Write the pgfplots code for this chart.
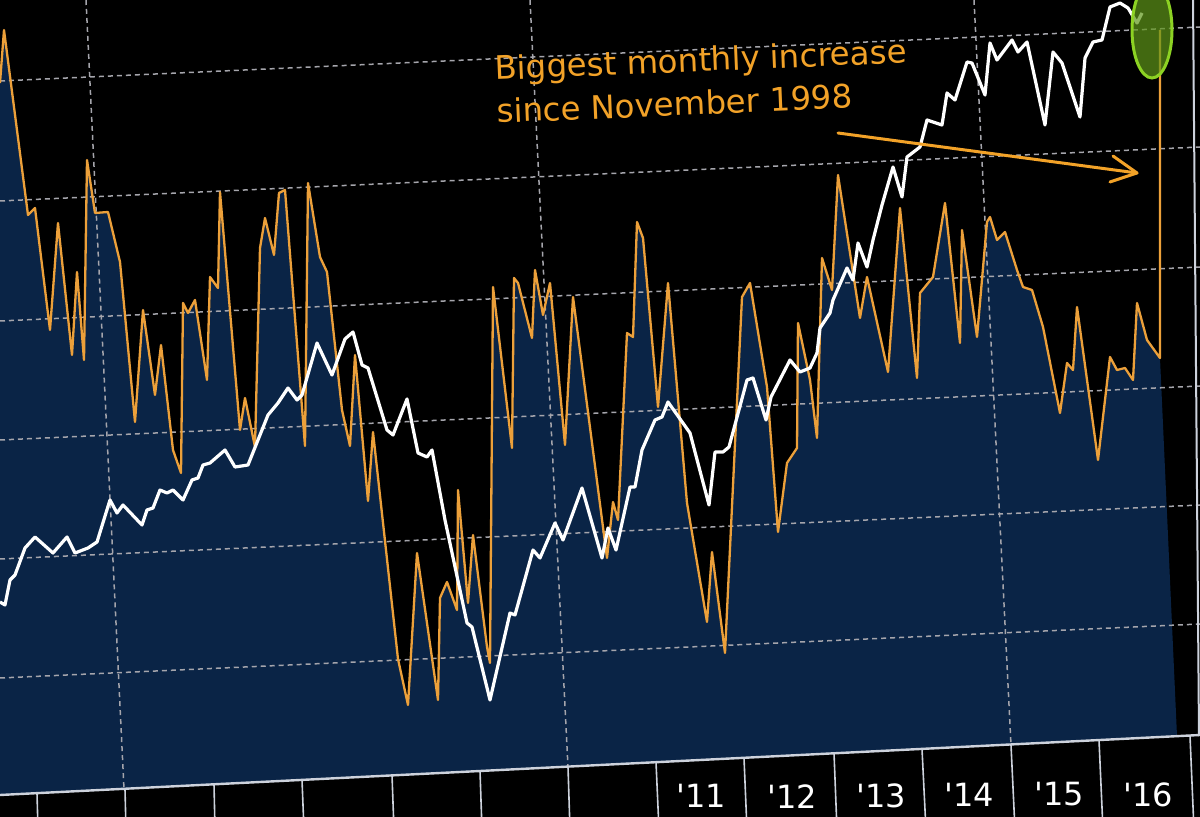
\documentclass[border=0pt]{standalone}
\usepackage{fontspec}
\setmainfont{DejaVu Sans}
\usepackage{pgfplots}
\pgfplotsset{compat=1.18}
\definecolor{navyF}{RGB}{10,36,70}
\definecolor{orangeL}{RGB}{236,160,58}
\definecolor{orangeT}{RGB}{242,162,40}
\definecolor{gridC}{RGB}{165,165,172}
\definecolor{axisC}{RGB}{205,210,220}
\definecolor{limeC}{RGB}{140,210,35}
\definecolor{greenF}{RGB}{95,150,25}
\begin{document}
\begin{tikzpicture}
\useasboundingbox (0,0) rectangle (600pt,408.5pt);
\clip (0,0) rectangle (600pt,408.5pt);
\fill[black] (0,0) rectangle (600pt,408.5pt);
\begin{axis}[at={(0,0)}, anchor=south west,
  width=600pt, height=408.5pt, scale only axis,
  xmin=0, xmax=1200, ymin=0, ymax=817, y dir=reverse,
  axis lines=none, xtick=\empty, ytick=\empty, clip=true]
% navy area under the orange series
\addplot[draw=none, fill=navyF] coordinates {
(0,83) (4,30) (28,215) (35,208) (50,330) (58,223) (72,355) (77,272) (84,360) (87,160)
(95,213) (108,212) (120,262) (135,422) (143,310) (155,395) (161,345) (173,450) (181,473) (183,303)
(188,313) (195,300) (207,380) (210,277) (218,288) (220,192) (240,430) (245,398) (255,447) (260,248)
(265,218) (274,255) (279,193) (285,190) (305,446) (308,183) (320,257) (327,272) (342,410) (350,446)
(355,355) (368,501) (373,432) (398,659) (408,705) (417,553) (438,700) (440,598) (447,582) (457,610)
(458,490) (468,603) (473,535) (487,647) (490,663) (493,287) (512,448) (514,278) (518,283) (532,338)
(535,270) (543,315) (550,283) (565,445) (573,297) (607,558) (613,502) (618,520) (627,333) (633,337)
(637,222) (643,238) (658,407) (668,283) (687,503) (707,622) (712,552) (725,653) (742,297) (750,283)
(767,387) (778,532) (787,463) (797,448) (798,323) (810,380) (817,438) (822,258) (832,290) (838,175)
(860,318) (867,277) (888,372) (900,208) (917,378) (920,293) (933,277) (945,203) (960,343) (962,230)
(977,337) (987,222) (990,217) (997,240) (1005,232) (1017,270) (1023,287) (1032,290) (1043,327) (1060,413)
(1067,363) (1073,370) (1077,307) (1098,460) (1110,357) (1117,370) (1125,368) (1133,380) (1137,303) (1147,340)
(1160,358) (1177,736) (0,795)};
% grid
\draw[gridC, line width=0.75pt, dash pattern=on 2.5pt off 2pt] (axis cs:0,81) -- (axis cs:1200,27);
\draw[gridC, line width=0.75pt, dash pattern=on 2.5pt off 2pt] (axis cs:0,201) -- (axis cs:1200,147);
\draw[gridC, line width=0.75pt, dash pattern=on 2.5pt off 2pt] (axis cs:0,321) -- (axis cs:1200,267);
\draw[gridC, line width=0.75pt, dash pattern=on 2.5pt off 2pt] (axis cs:0,440) -- (axis cs:1200,386);
\draw[gridC, line width=0.75pt, dash pattern=on 2.5pt off 2pt] (axis cs:0,559) -- (axis cs:1200,505);
\draw[gridC, line width=0.75pt, dash pattern=on 2.5pt off 2pt] (axis cs:0,678) -- (axis cs:1200,624);
\draw[gridC, line width=0.75pt, dash pattern=on 2.5pt off 2pt] (axis cs:86,0) -- (axis cs:124,789);
\draw[gridC, line width=0.75pt, dash pattern=on 2.5pt off 2pt] (axis cs:530,0) -- (axis cs:568,767);
\draw[gridC, line width=0.75pt, dash pattern=on 2.5pt off 2pt] (axis cs:974,0) -- (axis cs:1011,745);
% orange series
\addplot[orangeL, line width=1.15pt, line join=round] coordinates {
(0,83) (4,30) (28,215) (35,208) (50,330) (58,223) (72,355) (77,272) (84,360) (87,160)
(95,213) (108,212) (120,262) (135,422) (143,310) (155,395) (161,345) (173,450) (181,473) (183,303)
(188,313) (195,300) (207,380) (210,277) (218,288) (220,192) (240,430) (245,398) (255,447) (260,248)
(265,218) (274,255) (279,193) (285,190) (305,446) (308,183) (320,257) (327,272) (342,410) (350,446)
(355,355) (368,501) (373,432) (398,659) (408,705) (417,553) (438,700) (440,598) (447,582) (457,610)
(458,490) (468,603) (473,535) (487,647) (490,663) (493,287) (512,448) (514,278) (518,283) (532,338)
(535,270) (543,315) (550,283) (565,445) (573,297) (607,558) (613,502) (618,520) (627,333) (633,337)
(637,222) (643,238) (658,407) (668,283) (687,503) (707,622) (712,552) (725,653) (742,297) (750,283)
(767,387) (778,532) (787,463) (797,448) (798,323) (810,380) (817,438) (822,258) (832,290) (838,175)
(860,318) (867,277) (888,372) (900,208) (917,378) (920,293) (933,277) (945,203) (960,343) (962,230)
(977,337) (987,222) (990,217) (997,240) (1005,232) (1017,270) (1023,287) (1032,290) (1043,327) (1060,413)
(1067,363) (1073,370) (1077,307) (1098,460) (1110,357) (1117,370) (1125,368) (1133,380) (1137,303) (1147,340)
(1160,358) (1160,30)};
% white series
\addplot[white, line width=1.6pt, line join=round] coordinates {
(0,602) (5,605) (10,580) (15,575) (25,548) (35,537) (53,553) (67,537) (75,553) (88,548)
(97,542) (110,500) (117,513) (123,505) (142,525) (147,510) (153,508) (160,490) (167,493) (173,490)
(183,500) (192,480) (198,478) (203,465) (210,463) (225,450) (235,467) (248,465) (268,415) (278,403)
(288,388) (297,400) (302,395) (317,343) (332,375) (345,339) (353,332) (362,365) (368,368) (387,430)
(393,435) (407,399) (418,453) (427,457) (432,450) (445,520) (467,623) (472,627) (490,700) (510,613)
(515,615) (533,550) (540,558) (555,523) (563,540) (582,488) (602,558) (608,528) (616,550) (630,487)
(635,487) (642,450) (655,420) (662,417) (668,402) (690,433) (709,505) (715,452) (723,452) (729,447)
(747,380) (753,378) (766,420) (771,397) (790,360) (800,372) (810,368) (817,353) (820,328) (830,313)
(833,300) (847,268) (853,280) (858,243) (867,267) (873,240) (882,205) (893,167) (902,197) (907,157)
(920,147) (927,120) (942,125) (947,93) (955,100) (967,62) (972,63) (985,95) (990,43) (997,60)
(1012,40) (1018,52) (1027,42) (1045,125) (1053,52) (1062,63) (1080,117) (1085,58) (1093,42) (1102,40)
(1110,7) (1120,3) (1128,8) (1137,23) (1142,13)};
% highlight ellipse
\draw[draw=limeC, line width=1.5pt, fill=greenF, fill opacity=0.7] (axis cs:1152,30) ellipse [x radius=10pt, y radius=24pt];
% annotation
\node[orangeT, anchor=base west, inner sep=0pt, rotate=2.4, font=\fontsize{16.2}{20}\selectfont] at (axis cs:495,80) {Biggest monthly increase};
\node[orangeT, anchor=base west, inner sep=0pt, rotate=2.4, font=\fontsize{16.2}{20}\selectfont] at (axis cs:497,123) {since November 1998};
\draw[orangeT, line width=1.5pt, line cap=round] (axis cs:838,133) -- (axis cs:1137,173);
\draw[orangeT, line width=1.5pt, line cap=round, line join=round] (axis cs:1113,156) -- (axis cs:1137,173) -- (axis cs:1110,182);
% axes
\draw[axisC, line width=1.2pt] (axis cs:0,795) -- (axis cs:1200,735);
\draw[axisC, line width=1pt] (axis cs:1193,0) -- (axis cs:1199,736);
\draw[axisC, line width=0.8pt] (axis cs:37,793) -- (axis cs:38,830);
\draw[axisC, line width=0.8pt] (axis cs:125,789) -- (axis cs:126,830);
\draw[axisC, line width=0.8pt] (axis cs:214,784) -- (axis cs:215,830);
\draw[axisC, line width=0.8pt] (axis cs:302,780) -- (axis cs:304,830);
\draw[axisC, line width=0.8pt] (axis cs:392,775) -- (axis cs:394,830);
\draw[axisC, line width=0.8pt] (axis cs:480,771) -- (axis cs:482,830);
\draw[axisC, line width=0.8pt] (axis cs:568,767) -- (axis cs:570,830);
\draw[axisC, line width=0.8pt] (axis cs:656,762) -- (axis cs:659,830);
\draw[axisC, line width=0.8pt] (axis cs:744,758) -- (axis cs:747,830);
\draw[axisC, line width=0.8pt] (axis cs:834,753) -- (axis cs:837,830);
\draw[axisC, line width=0.8pt] (axis cs:922,749) -- (axis cs:926,830);
\draw[axisC, line width=0.8pt] (axis cs:1011,745) -- (axis cs:1015,830);
\draw[axisC, line width=0.8pt] (axis cs:1099,740) -- (axis cs:1103,830);
\draw[axisC, line width=0.8pt] (axis cs:1190,736) -- (axis cs:1194,830);
% year labels
\node[white, anchor=north, inner sep=0pt, font=\fontsize{16}{19}\selectfont] at (axis cs:701,784) {\textquotesingle 11};
\node[white, anchor=north, inner sep=0pt, font=\fontsize{16}{19}\selectfont] at (axis cs:792,784) {\textquotesingle 12};
\node[white, anchor=north, inner sep=0pt, font=\fontsize{16}{19}\selectfont] at (axis cs:881,783) {\textquotesingle 13};
\node[white, anchor=north, inner sep=0pt, font=\fontsize{16}{19}\selectfont] at (axis cs:969,783) {\textquotesingle 14};
\node[white, anchor=north, inner sep=0pt, font=\fontsize{16}{19}\selectfont] at (axis cs:1059,782) {\textquotesingle 15};
\node[white, anchor=north, inner sep=0pt, font=\fontsize{16}{19}\selectfont] at (axis cs:1148,782) {\textquotesingle 16};
\end{axis}
\end{tikzpicture}
\end{document}
